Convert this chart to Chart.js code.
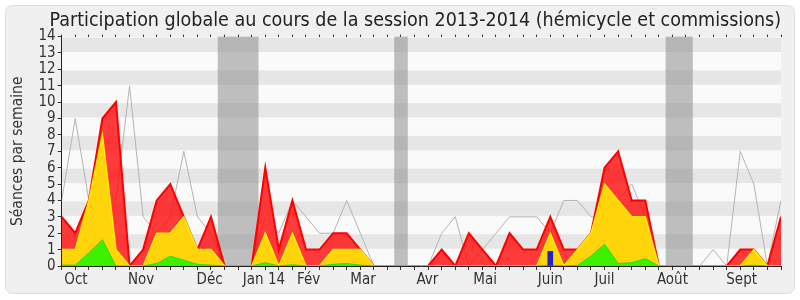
<!DOCTYPE html>
<html>
<head>
<meta charset="utf-8">
<script src="https://cdn.jsdelivr.net/npm/chart.js@4/dist/chart.umd.min.js"></script>
<style>
html,body{margin:0;padding:0;background:#fff;}
#wrap{width:800px;height:300px;}
</style>
</head>
<body>
<div id="wrap"><canvas id="c" width="800" height="300"></canvas></div>
<script>
// ---- data (one value per week, session 2013-2014) ----
const totalValues = [3,2,4,9,10,0,1,4,5,3,1,3,0,0,0,6,1,4,1,1,2,2,1,0,0,0,0,0,1,0,2,1,0,2,1,1,3,1,1,2,6,7,4,4,0,0,0,0,0,0,1,1,0,3];
const commissionValues = [1,1,4,8,1,0,0,2,2,3,1,1,0,0,0,2,0,2,0,0,1,1,1,0,0,0,0,0,0,0,0,0,0,0,0,0,2,0,1,2,5,4,3,3,0,0,0,0,0,0,0,1,0,0];
const presidenceValues = [0.05,0.05,0.8,1.6,0,0,0,0.15,0.6,0.35,0.1,0.05,0,0,0,0.2,0,0.08,0,0,0.1,0.15,0.05,0,0,0,0,0,0,0,0,0,0,0,0,0,0.05,0,0.03,0.6,1.33,0.15,0.2,0.45,0,0,0,0,0,0,0,0.05,0,0];
const medianValues = [4,9,4,5,4,11,3,2,3,7,3,2,0,0,0,3,2,4,3,2,2,4,2,0,0,0,0,0,2,3,0,1,2,3,3,3,2,4,4,3,3,4,5,3,0,0,0,0,1,0,7,5,0,4];
const questionWeeks = [36];
const questionValues = [0.9];
const vacationStart = [11.5, 24.5, 44.5];
const vacationEnd = [14.5, 25.5, 46.5];
const monthPositions = [1.05, 5.85, 10.9, 14.9, 18.2, 22.2, 26.95, 31.2, 36.0, 40.0, 45.0, 50.1];
const monthLabels = ["Oct","Nov","Déc","Jan 14","Fév","Mar","Avr","Mai","Juin","Juil","Août","Sept"];
const yTicks = [0,1,2,3,4,5,6,7,8,9,10,11,12,13,14];

const FONT = "'DejaVu Sans Condensed', 'DejaVu Sans', sans-serif";
const toPts = arr => arr.map((v, i) => ({x: i, y: v}));
const lastWeek = totalValues.length - 1;

const bgPlugin = {
  id: 'bg',
  beforeDraw(chart) {
    const ctx = chart.ctx;
    ctx.save();
    ctx.fillStyle = '#ffffff';
    ctx.fillRect(0, 0, chart.width, chart.height);
    const x0 = 5.5, y0 = 5.5, w = 789, h = 288, r = 8;
    ctx.beginPath();
    ctx.moveTo(x0 + r, y0);
    ctx.lineTo(x0 + w - r, y0);
    ctx.quadraticCurveTo(x0 + w, y0, x0 + w, y0 + r);
    ctx.lineTo(x0 + w, y0 + h - r);
    ctx.quadraticCurveTo(x0 + w, y0 + h, x0 + w - r, y0 + h);
    ctx.lineTo(x0 + r, y0 + h);
    ctx.quadraticCurveTo(x0, y0 + h, x0, y0 + h - r);
    ctx.lineTo(x0, y0 + r);
    ctx.quadraticCurveTo(x0, y0, x0 + r, y0);
    ctx.closePath();
    ctx.fillStyle = '#f0f0f0';
    ctx.fill();
    ctx.strokeStyle = '#dedede';
    ctx.lineWidth = 1;
    ctx.stroke();
    const a = chart.chartArea;
    const ys = chart.scales.y;
    ctx.fillStyle = '#fafafa';
    ctx.fillRect(a.left, a.top, a.right - a.left, a.bottom - a.top);
    ctx.fillStyle = '#e6e6e6';
    for (let k = 1; k < yTicks.length - 1; k += 2) {
      const yt = ys.getPixelForValue(yTicks[k + 1]);
      const yb = ys.getPixelForValue(yTicks[k]);
      ctx.fillRect(a.left, yt + 1, a.right - a.left, yb - yt - 2);
    }
    ctx.restore();
  },
  beforeDatasetsDraw(chart) {
    const ctx = chart.ctx;
    const a = chart.chartArea;
    const xs = chart.scales.x;
    ctx.save();
    ctx.fillStyle = 'rgba(140,140,140,0.55)';
    for (let i = 0; i < vacationStart.length; i++) {
      const l = xs.getPixelForValue(vacationStart[i]);
      const rr = xs.getPixelForValue(vacationEnd[i]);
      ctx.fillRect(l, a.top, rr - l, a.bottom - a.top);
    }
    ctx.restore();
  }
};

new Chart(document.getElementById('c'), {
  type: 'line',
  data: {
    datasets: [
      {
        label: 'Présences en commission',
        data: toPts(presidenceValues),
        borderColor: '#22dd00',
        backgroundColor: '#3cf000',
        borderWidth: 1,
        fill: 'origin',
        pointRadius: 0,
        tension: 0,
        order: 1
      },
      {
        label: 'Interventions',
        data: toPts(commissionValues),
        borderColor: '#ffee00',
        backgroundColor: '#ffd40a',
        borderWidth: 1.5,
        fill: 'origin',
        pointRadius: 0,
        tension: 0,
        order: 2
      },
      {
        label: 'Présences',
        data: toPts(totalValues),
        borderColor: '#ff0000',
        backgroundColor: 'rgba(255,10,10,0.8)',
        borderWidth: 2,
        fill: 'origin',
        pointRadius: 0,
        tension: 0,
        order: 3
      },
      {
        label: 'Médiane',
        data: toPts(medianValues),
        borderColor: '#b4b4b4',
        borderWidth: 1,
        fill: false,
        pointRadius: 0,
        tension: 0,
        order: 4
      },
      {
        type: 'bar',
        label: 'Questions',
        data: questionWeeks.map((w, i) => ({x: w, y: questionValues[i]})),
        backgroundColor: '#2222cc',
        borderWidth: 0,
        barThickness: 5,
        order: 0
      }
    ]
  },
  options: {
    responsive: false,
    animation: false,
    devicePixelRatio: 1,
    layout: {padding: {left: 6, right: 19, top: 0, bottom: 0}},
    plugins: {
      legend: {display: false},
      tooltip: {enabled: false},
      title: {
        display: true,
        align: 'end',
        text: 'Participation globale au cours de la session 2013-2014 (hémicycle et commissions)',
        font: {family: FONT, size: 19.5, weight: 'normal'},
        color: '#222',
        padding: {top: 9, bottom: 2}
      }
    },
    scales: {
      x: {
        type: 'linear', position: 'bottom', min: 0, max: lastWeek, offset: false,
        weight: 0,
        ticks: {display: false, stepSize: 1, autoSkip: false},
        grid: {display: true, drawOnChartArea: false, drawTicks: true, tickLength: 4, color: '#333', offset: false},
        border: {display: true, color: '#222', width: 1},
        afterFit(s) { s.height = 4; }
      },
      xl: {
        type: 'linear', position: 'bottom', min: 0, max: lastWeek, offset: false,
        weight: 1,
        afterBuildTicks(s) { s.ticks = monthPositions.map(v => ({value: v})); },
        ticks: {
          display: true, autoSkip: false, maxRotation: 0, padding: -7,
          font: {family: FONT, size: 15}, color: '#333',
          callback: (v, i) => monthLabels[i]
        },
        grid: {display: false},
        border: {display: false},
        afterFit(s) { s.height = 30; }
      },
      xt: {
        type: 'linear', position: 'top', min: 0, max: lastWeek, offset: false,
        ticks: {display: false, stepSize: 1, autoSkip: false},
        grid: {display: true, drawOnChartArea: false, drawTicks: true, tickLength: 2, color: '#333'},
        border: {display: false},
        afterFit(s) { s.height = 2.2; }
      },
      y: {
        type: 'linear', min: 0, max: 14,
        afterBuildTicks(s) { s.ticks = yTicks.map(v => ({value: v})); },
        ticks: {autoSkip: false, padding: 2, font: {family: FONT, size: 15}, color: '#333'},
        grid: {display: true, drawOnChartArea: false, drawTicks: true, tickLength: 4, color: '#333'},
        border: {display: true, color: '#222', width: 1},
        title: {display: true, text: 'Séances par semaine', font: {family: FONT, size: 15.5}, color: '#333', padding: {top: 3, bottom: 2}},
        afterFit(s) { s.width = 55.7; }
      }
    }
  },
  plugins: [bgPlugin]
});
</script>
</body>
</html>
